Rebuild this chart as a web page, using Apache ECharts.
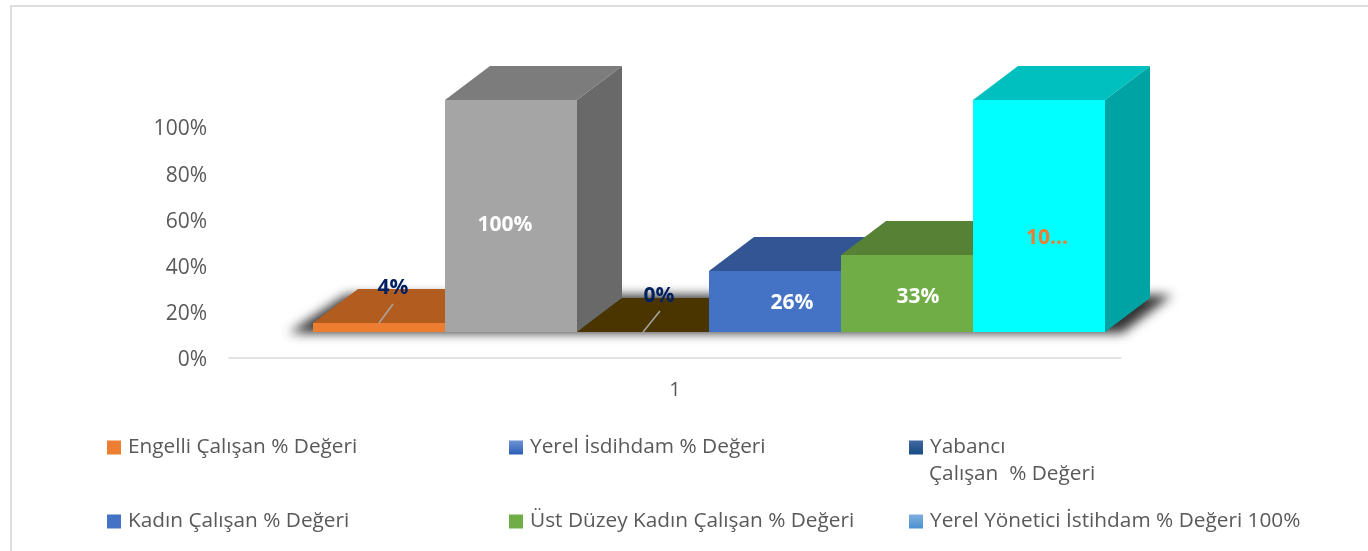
<!DOCTYPE html>
<html><head><meta charset="utf-8">
<style>html,body{margin:0;padding:0;background:#fff}#c{width:1368px;height:551px}</style>
<script src="https://cdn.jsdelivr.net/npm/echarts@6/dist/echarts.min.js"></script>
</head><body><div id="c"></div>
<script>
const categories = ['1'];
const seriesNames = ['Engelli Çalışan % Değeri','Yerel İsdihdam % Değeri','Yabancı\nÇalışan  % Değeri','Kadın Çalışan % Değeri','Üst Düzey Kadın Çalışan % Değeri','Yerel Yönetici İstihdam % Değeri 100%'];
const values = [4, 100, 0, 26.3, 33.2, 100];
const valueLabels = ['4%','100%','0%','26%','33%','10...'];
const yTicks = [0,20,40,60,80,100];

const FONT = '"Open Sans", sans-serif';
const BAR_W = 132, DX = 45, DY = 34, LIFT = 26, FIRST = -362, FACE_SCALE = 232/231;
const faces = [
 {front:'#ED7D31',top:'#B35C20',side:'#B35C20',label:'#002060'},
 {front:'#A5A5A5',top:'#7C7C7C',side:'#696969',label:'#FFFFFF'},
 {front:'#4A3500',top:'#4A3500',side:'#4A3500',label:'#002060'},
 {front:'#4472C4',top:'#335593',side:'#335593',label:'#FFFFFF'},
 {front:'#70AD47',top:'#578135',side:'#4F7A32',label:'#FFFFFF'},
 {front:'#00FFFF',top:'#00BFBF',side:'#00A3A3',label:'#ED7D31'}
];
const labelPos = [[80,-35],[60,125],[82,-36],[83,32],[77,42],[74,138]];
const leaders = [[[66,0],[80,-19]],null,[[66,0],[83,-21]],null,null,null];
const legendIcons = [
 '#ED7D31',
 {type:'linear',x:0,y:0,x2:0,y2:1,colorStops:[{offset:0,color:'#6F94D6'},{offset:1,color:'#2A5DB5'}]},
 {type:'linear',x:0,y:0,x2:0,y2:1,colorStops:[{offset:0,color:'#42699F'},{offset:1,color:'#154B85'}]},
 '#4472C4','#70AD47',
 {type:'linear',x:0,y:0,x2:0,y2:1,colorStops:[{offset:0,color:'#7FB0E0'},{offset:1,color:'#4A90D0'}]}
];
const legendAt = [[107,437],[509,437],[909,437],[107,511],[509,511],[909,511]];

function barRender(i){
  return function(params, api){
    const base = api.coord([0,0]);
    const topPt = api.coord([0,api.value(1)]);
    const x0 = base[0]+FIRST+i*BAR_W, x1 = x0+BAR_W;
    const yb = Math.round(base[1]-LIFT), yt = yb-Math.round((base[1]-topPt[1])*FACE_SCALE);
    const f = faces[i];
    const children = [
      {type:'polygon',shape:{points:[[x1,yt],[x1+DX,yt-DY],[x1+DX,yb-DY],[x1,yb]]},style:{fill:f.side}},
      {type:'polygon',shape:{points:[[x0,yt],[x0+DX,yt-DY],[x1+DX,yt-DY],[x1,yt]]},style:{fill:f.top}},
      {type:'rect',shape:{x:x0,y:yt,width:BAR_W,height:yb-yt},style:{fill:f.front}}
    ];
    if(leaders[i]){
      const L = leaders[i];
      children.push({type:'line',shape:{x1:x0+L[0][0],y1:yt+L[0][1],x2:x0+L[1][0],y2:yt+L[1][1]},style:{stroke:'#A6A6A6',lineWidth:1.5}});
    }
    children.push({type:'text',x:x0+labelPos[i][0],y:yt+labelPos[i][1],style:{text:valueLabels[i],fill:f.label,font:'bold 21px '+FONT,align:'center',verticalAlign:'middle'}});
    return {type:'group',children};
  };
}
function shadowRender(params, api){
  const base = api.coord([0,0]);
  const yb = base[1]-LIFT+1, off = 3000;
  const xl = base[0]+FIRST-24, xr = base[0]+FIRST+6*BAR_W+17;
  return {type:'polygon',shape:{points:[[xl-off,yb],[xl+57-off,yb-DY-4],[xr+50-off,yb-DY-4],[xr-off,yb]]},
    style:{fill:'#444',shadowBlur:11,shadowOffsetX:off,shadowColor:'#333'}};
}
const series = [{type:'custom',name:'shadow',silent:true,data:[[0,0]],encode:{x:0,y:1},renderItem:shadowRender,z:1}];
seriesNames.forEach((n,i)=>series.push({type:'custom',name:n,silent:true,z:2,itemStyle:{color:faces[i].front},
  data:[[0,values[i]]],encode:{x:0,y:1},renderItem:barRender(i)}));

const legends = seriesNames.map((n,i)=>({
  data:[{name:n,icon:'rect',itemStyle:{color:legendIcons[i]}}],
  left:legendAt[i][0],top:legendAt[i][1],itemWidth:14,itemHeight:14,selectedMode:false,
  padding:0,formatter:s=>s.split('\n')[0],
  textStyle:{fontFamily:FONT,fontSize:20.8,color:'#595959',padding:[0,0,0,2]}
}));

const chart = echarts.init(document.getElementById('c'),null,{renderer:'canvas'});
chart.setOption({
  animation:false,backgroundColor:'#fff',
  grid:{left:229,right:247,top:127,bottom:193},
  xAxis:{type:'category',data:categories,axisTick:{show:false},
    axisLine:{lineStyle:{color:'#D9D9D9',width:1.5}},
    axisLabel:{color:'#595959',fontFamily:FONT,fontSize:20,margin:22}},
  yAxis:{type:'value',min:0,max:100,interval:20,axisLine:{show:false},axisTick:{show:false},splitLine:{show:false},
    axisLabel:{color:'#595959',fontFamily:FONT,fontSize:21,margin:22,verticalAlign:'top',lineHeight:5,formatter:v=>yTicks.includes(v)?v+'%':''}},
  legend:legends,
  graphic:[
    {type:'rect',silent:true,z:0,shape:{x:11,y:6,width:1400,height:600},style:{fill:'none',stroke:'#DEDEDE',lineWidth:2}},
    {type:'text',silent:true,left:929,top:464,style:{text:seriesNames[2].split('\n')[1],fill:'#595959',font:'20.8px '+FONT}}
  ],
  series
});
</script></body></html>
